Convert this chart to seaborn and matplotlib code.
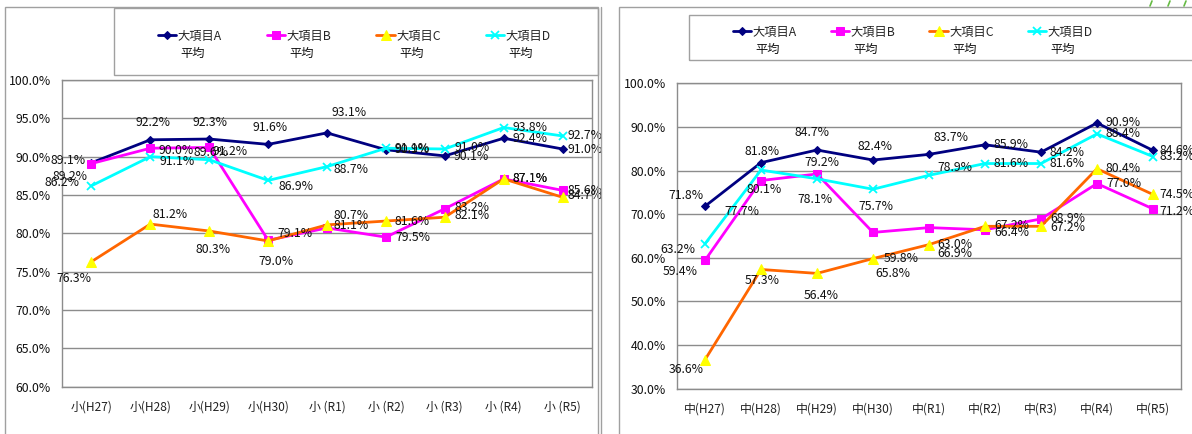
import numpy as np
import pandas as pd
import seaborn as sns
import matplotlib
matplotlib.use("Agg")
import matplotlib.pyplot as plt
from matplotlib.patches import Rectangle
from matplotlib.lines import Line2D
from matplotlib.ticker import FuncFormatter

# categories
sho_cats = ["小(H27)", "小(H28)", "小(H29)", "小(H30)", "小 (R1)", "小 (R2)", "小 (R3)", "小 (R4)", "小 (R5)"]
chu_cats = ["中(H27)", "中(H28)", "中(H29)", "中(H30)", "中(R1)", "中(R2)", "中(R3)", "中(R4)", "中(R5)"]
series_names = ["大項目A", "大項目B", "大項目C", "大項目D"]

# left chart (小)
sho_a = [89.2, 92.2, 92.3, 91.6, 93.1, 90.9, 90.1, 92.4, 91.0]
sho_b = [89.1, 91.1, 91.2, 79.1, 80.7, 79.5, 83.2, 87.1, 85.6]
sho_c = [76.3, 81.2, 80.3, 79.0, 81.1, 81.6, 82.1, 87.1, 84.7]
sho_d = [86.2, 90.0, 89.6, 86.9, 88.7, 91.1, 91.0, 93.8, 92.7]

# right chart (中)
chu_a = [71.8, 81.8, 84.7, 82.4, 83.7, 85.9, 84.2, 90.9, 84.6]
chu_b = [59.4, 77.7, 79.2, 65.8, 66.9, 66.4, 68.9, 77.0, 71.2]
chu_c = [36.6, 57.3, 56.4, 59.8, 63.0, 67.2, 67.2, 80.4, 74.5]
chu_d = [63.2, 80.1, 78.1, 75.7, 78.9, 81.6, 81.6, 88.4, 83.2]

# line styles per series
styles = [
    dict(color="#000080", marker="D", markersize=4.5, markerfacecolor="#000080", markeredgecolor="#000080"),
    dict(color="#FF00FF", marker="s", markersize=6, markerfacecolor="#FF00FF", markeredgecolor="#FF00FF"),
    dict(color="#FF6600", marker="^", markersize=7, markerfacecolor="#FFFF00", markeredgecolor="#FFFF00"),
    dict(color="#00FFFF", marker="x", markersize=6, markeredgecolor="#00FFFF", markeredgewidth=1.3),
]

# data label offsets in pixels (dx, dy, ha)
sho_offsets = [
    [(-21, -14, "center"), (3, 17, "center"), (1, 17, "center"), (2, 17, "center"), (22, 20, "center"),
     (9, 0, "left"), (9, -1, "left"), (9, 0, "left"), (5, -1, "left")],
    [(-6, 3, "right"), (9, -13, "left"), (3, -4, "left"), (9, 7, "left"), (6, 12, "left"),
     (10, 0, "left"), (10, 1, "left"), (9, 0, "left"), (5, 0, "left")],
    [(-18, -17, "center"), (20, 10, "center"), (4, -18, "center"), (8, -21, "center"), (7, -1, "left"),
     (9, 0, "left"), (10, 2, "left"), (9, 0, "left"), (5, 2, "left")],
    [(-12, 3, "right"), (8, 6, "left"), (2, 7, "center"), (10, -6, "left"), (7, -3, "left"),
     (9, 0, "left"), (10, 1, "left"), (9, 0, "left"), (5, 0, "left")],
]
chu_offsets = [
    [(-19, 11, "center"), (1, 11, "center"), (-5, 18, "center"), (2, 14, "center"), (22, 17, "center"),
     (9, 0, "left"), (9, 0, "left"), (9, 0, "left"), (6, 0, "left")],
    [(-25, -11, "center"), (-19, -31, "center"), (5, 11, "center"), (20, -41, "center"), (8, -26, "left"),
     (9, -3, "left"), (9, 0, "left"), (9, 0, "left"), (6, -3, "left")],
    [(-19, -10, "center"), (1, -11, "center"), (4, -22, "center"), (11, 0, "left"), (8, 0, "left"),
     (9, 1, "left"), (9, -1, "left"), (9, 0, "left"), (6, 0, "left")],
    [(-10, -6, "right"), (3, -19, "center"), (-2, -21, "center"), (3, -17, "center"), (8, 8, "left"),
     (9, 0, "left"), (9, 0, "left"), (9, 0, "left"), (6, 0, "left")],
]

sns.set_style("white")
plt.rcParams["font.family"] = ["Liberation Sans Narrow", "Noto Sans CJK JP", "DejaVu Sans"]
jp_font = ["Noto Sans CJK JP", "DejaVu Sans"]

W, H = 1192, 434
fig = plt.figure(figsize=(W / 100, H / 100), dpi=100)
fig.patch.set_facecolor("white")

grid_col = "#8C8C8C"


def draw_chart(ax, cats, series, offsets, ymin, ymax, step):
    for vals, st, offs in zip(series, styles, offsets):
        sns.lineplot(x=cats, y=vals, ax=ax, linewidth=2, sort=False, **st)
        line = ax.lines[-1]
        line.set_linestyle("-")
        line.set_marker(st["marker"])
        for cat, v, (dx, dy, ha) in zip(cats, vals, offs):
            ax.annotate(f"{v:.1f}%", xy=(cat, v), xytext=(dx, dy), textcoords="offset pixels",
                        ha=ha, va="center", fontsize=8.8, color="#111111", zorder=5)
    ax.set_xlim(-0.5, len(cats) - 0.5)
    ax.set_ylim(ymin, ymax)
    ax.set_yticks(np.arange(ymin, ymax + 0.1, step))
    ax.yaxis.set_major_formatter(FuncFormatter(lambda v, p: f"{v:.1f}%"))
    ax.set_xticks(range(len(cats)))
    ax.set_xticklabels(cats, fontfamily=jp_font, fontsize=8.6, color="#222222")
    ax.set_xticks(np.arange(-0.5, len(cats), 1), minor=True)
    ax.tick_params(axis="x", which="major", length=0, pad=10)
    ax.tick_params(axis="x", which="minor", length=4, width=1, color=grid_col, direction="out")
    ax.tick_params(axis="y", length=0, pad=8, labelsize=8.8, labelcolor="#111111")
    ax.grid(axis="y", color=grid_col, linewidth=1)
    ax.grid(axis="x", visible=False)
    for sp in ax.spines.values():
        sp.set_color(grid_col)
        sp.set_linewidth(1)
    ax.set_xlabel("")
    ax.set_ylabel("")


ax1 = fig.add_axes([62 / W, (H - 386.6) / H, (592 - 62) / W, (386.6 - 80) / H])
ax2 = fig.add_axes([677 / W, (H - 388.5) / H, (1181 - 677) / W, (388.5 - 83.3) / H])

draw_chart(ax1, sho_cats, [sho_a, sho_b, sho_c, sho_d], sho_offsets, 60, 100, 5)
draw_chart(ax2, chu_cats, [chu_a, chu_b, chu_c, chu_d], chu_offsets, 30, 100, 10)

# outer frames and legend boxes
box_col = "#A0A0A0"
fig.add_artist(Rectangle((5 / W, -0.05), 593 / W, 1.05 - 7 / H, transform=fig.transFigure,
                         fill=False, edgecolor=box_col, linewidth=1))
fig.add_artist(Line2D([601 / W, 601 / W], [-0.05, 1 - 7 / H], transform=fig.transFigure,
                      color=box_col, linewidth=1))
fig.add_artist(Rectangle((619 / W, -0.05), 1, 1.05 - 7 / H, transform=fig.transFigure,
                         fill=False, edgecolor=box_col, linewidth=1))
fig.add_artist(Rectangle((114 / W, 1 - 75 / H), 484 / W, 67 / H, transform=fig.transFigure,
                         fill=False, edgecolor=box_col, linewidth=1))
fig.add_artist(Rectangle((689 / W, 1 - 60 / H), 1, 45 / H, transform=fig.transFigure,
                         fill=False, edgecolor=box_col, linewidth=1))

# small green marks at top right
for x0 in [1150, 1168, 1184]:
    fig.add_artist(Line2D([x0 / W, (x0 + 2) / W], [1 - 6 / H, 1 - 1 / H], transform=fig.transFigure,
                          color="#66BB44", linewidth=1.2))

# legends
legends = []
for ax, x_left, y_row, colsp in [(ax1, 158, 36, 3.7), (ax2, 733, 32, 2.8)]:
    leg = fig.legend(ax.lines[:4], series_names, ncol=4, loc="center left",
                     bbox_to_anchor=(x_left / W, 1 - y_row / H), frameon=False,
                     handlelength=1.5, handletextpad=0.1, columnspacing=colsp,
                     borderpad=0, borderaxespad=0, prop={"family": jp_font, "size": 8.8})
    legends.append(leg)

fig.canvas.draw()
renderer = fig.canvas.get_renderer()
for leg in legends:
    for t in leg.get_texts():
        bb = t.get_window_extent(renderer)
        fig.text((bb.x0 + 3) / W, ((bb.y0 + bb.y1) / 2 - 17) / H, "平均",
                 ha="left", va="center", fontfamily=jp_font, fontsize=8.8, color="#111111")

fig.savefig("out.png", dpi=100, facecolor="white")
